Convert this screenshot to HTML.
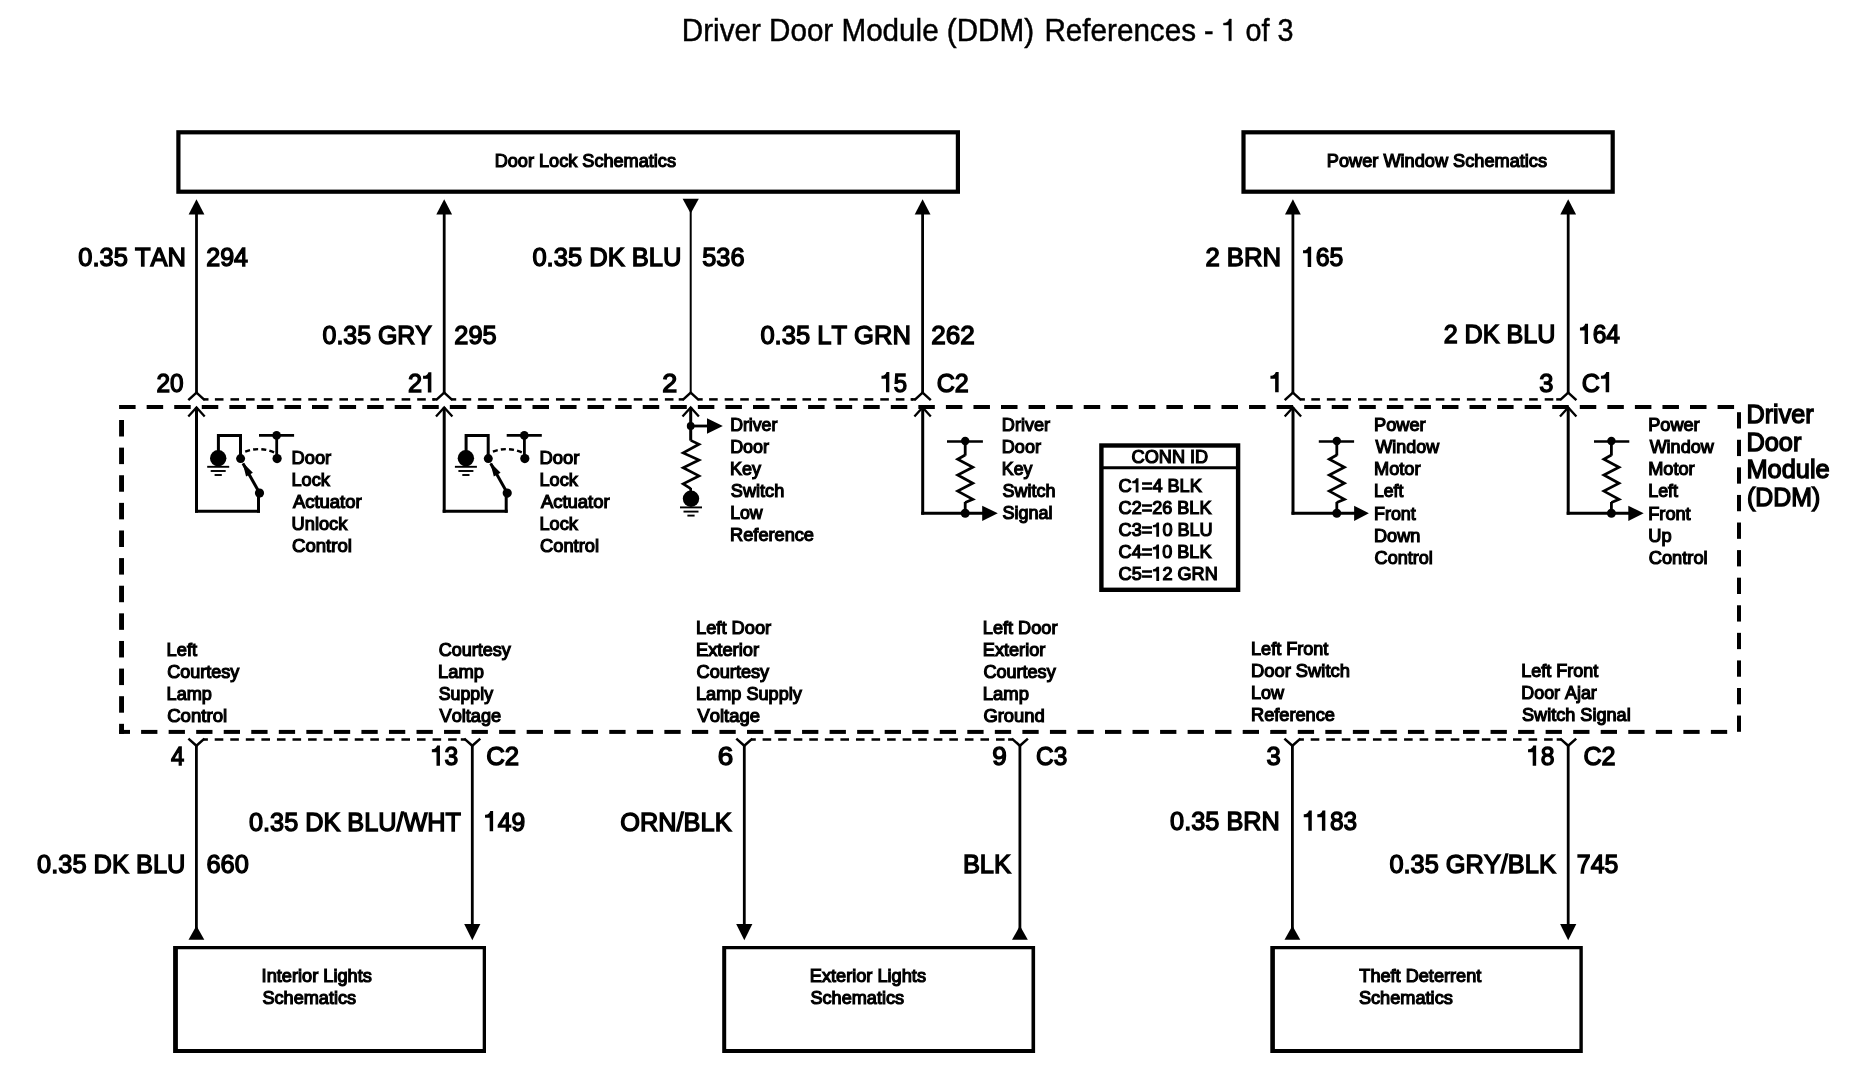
<!DOCTYPE html>
<html><head><meta charset="utf-8"><title>Driver Door Module (DDM) References - 1 of 3</title>
<style>
html,body{margin:0;padding:0;background:#fff;}
body{width:1864px;height:1088px;overflow:hidden;font-family:"Liberation Sans",sans-serif;}
svg{display:block;will-change:transform;}
svg text{font-family:"Liberation Sans",sans-serif;fill:#000;font-kerning:none;font-variant-ligatures:none;}
</style></head><body>
<svg width="1864" height="1088" viewBox="0 0 1864 1088">
<rect x="0" y="0" width="1864" height="1088" fill="#fff"/>
<text transform="translate(681.79,40.70) scale(0.9686,1)" font-size="30.6" stroke="#000" stroke-width="0.45">Driver Door Module (DDM)</text>
<text transform="translate(1044.39,40.70) scale(0.9691,1)" font-size="30.6" stroke="#000" stroke-width="0.45">References</text>
<g transform="translate(1203.96,40.70) scale(0.9402,1)"><text font-size="30.6" stroke="#000" stroke-width="0.45">- <tspan visibility="hidden">1</tspan> of 3</text><path d="M341,0H254V512H66V572C170,576 238,612 270,709H341Z" transform="translate(18.69,0) scale(0.03060,-0.03060)" stroke="#000" stroke-width="14.7"/></g>
<rect x="178.40" y="132.30" width="779.50" height="59.40" fill="none" stroke="#000" stroke-width="4.2"/>
<rect x="1243.50" y="132.30" width="369.20" height="59.40" fill="none" stroke="#000" stroke-width="4.2"/>
<path fill-rule="evenodd" fill="#000" d="M173.1,946.0H486.0V1053.0H173.1Z M177.9,949.2V1049.0H482.7V949.2Z"/>
<path fill-rule="evenodd" fill="#000" d="M722.2,946.0H1035.1V1053.0H722.2Z M726.2,949.2V1049.0H1031.5V949.2Z"/>
<path fill-rule="evenodd" fill="#000" d="M1270.3,946.0H1582.8V1053.0H1270.3Z M1274.8999999999999,949.2V1049.0H1579.3999999999999V949.2Z"/>
<text transform="translate(494.71,167.00) scale(0.9857,1)" font-size="18.4" stroke="#000" stroke-width="1.2">Door Lock Schematics</text>
<text transform="translate(1326.81,166.80) scale(0.9889,1)" font-size="18.4" stroke="#000" stroke-width="1.2">Power Window Schematics</text>
<text transform="translate(261.62,982.40) scale(0.9897,1)" font-size="18.4" stroke="#000" stroke-width="1.2">Interior Lights</text>
<text transform="translate(262.49,1004.40) scale(0.9839,1)" font-size="18.4" stroke="#000" stroke-width="1.2">Schematics</text>
<text transform="translate(809.81,982.40) scale(0.9884,1)" font-size="18.4" stroke="#000" stroke-width="1.2">Exterior Lights</text>
<text transform="translate(810.48,1004.40) scale(0.9849,1)" font-size="18.4" stroke="#000" stroke-width="1.2">Schematics</text>
<text transform="translate(1359.30,982.40) scale(0.9861,1)" font-size="18.4" stroke="#000" stroke-width="1.2">Theft Deterrent</text>
<text transform="translate(1358.88,1004.40) scale(0.9881,1)" font-size="18.4" stroke="#000" stroke-width="1.2">Schematics</text>
<line x1="119.1" y1="407.0" x2="135.6" y2="407.0" stroke="#000" stroke-width="4.0" />
<line x1="146.66" y1="407.0" x2="163.16" y2="407.0" stroke="#000" stroke-width="4.0" />
<line x1="174.22" y1="407.0" x2="190.72" y2="407.0" stroke="#000" stroke-width="4.0" />
<line x1="201.77999999999997" y1="407.0" x2="218.27999999999997" y2="407.0" stroke="#000" stroke-width="4.0" />
<line x1="229.33999999999997" y1="407.0" x2="245.83999999999997" y2="407.0" stroke="#000" stroke-width="4.0" />
<line x1="256.9" y1="407.0" x2="273.4" y2="407.0" stroke="#000" stroke-width="4.0" />
<line x1="284.46" y1="407.0" x2="300.96" y2="407.0" stroke="#000" stroke-width="4.0" />
<line x1="312.02" y1="407.0" x2="328.52" y2="407.0" stroke="#000" stroke-width="4.0" />
<line x1="339.58" y1="407.0" x2="356.08" y2="407.0" stroke="#000" stroke-width="4.0" />
<line x1="367.14" y1="407.0" x2="383.64" y2="407.0" stroke="#000" stroke-width="4.0" />
<line x1="394.69999999999993" y1="407.0" x2="411.19999999999993" y2="407.0" stroke="#000" stroke-width="4.0" />
<line x1="422.26" y1="407.0" x2="438.76" y2="407.0" stroke="#000" stroke-width="4.0" />
<line x1="449.81999999999994" y1="407.0" x2="466.31999999999994" y2="407.0" stroke="#000" stroke-width="4.0" />
<line x1="477.38" y1="407.0" x2="493.88" y2="407.0" stroke="#000" stroke-width="4.0" />
<line x1="504.93999999999994" y1="407.0" x2="521.4399999999999" y2="407.0" stroke="#000" stroke-width="4.0" />
<line x1="532.5" y1="407.0" x2="549.0" y2="407.0" stroke="#000" stroke-width="4.0" />
<line x1="560.06" y1="407.0" x2="576.56" y2="407.0" stroke="#000" stroke-width="4.0" />
<line x1="587.62" y1="407.0" x2="604.12" y2="407.0" stroke="#000" stroke-width="4.0" />
<line x1="615.18" y1="407.0" x2="631.68" y2="407.0" stroke="#000" stroke-width="4.0" />
<line x1="642.74" y1="407.0" x2="659.24" y2="407.0" stroke="#000" stroke-width="4.0" />
<line x1="670.3" y1="407.0" x2="686.8" y2="407.0" stroke="#000" stroke-width="4.0" />
<line x1="697.86" y1="407.0" x2="714.36" y2="407.0" stroke="#000" stroke-width="4.0" />
<line x1="725.42" y1="407.0" x2="741.92" y2="407.0" stroke="#000" stroke-width="4.0" />
<line x1="752.98" y1="407.0" x2="769.48" y2="407.0" stroke="#000" stroke-width="4.0" />
<line x1="780.54" y1="407.0" x2="797.04" y2="407.0" stroke="#000" stroke-width="4.0" />
<line x1="808.1" y1="407.0" x2="824.6" y2="407.0" stroke="#000" stroke-width="4.0" />
<line x1="835.66" y1="407.0" x2="852.16" y2="407.0" stroke="#000" stroke-width="4.0" />
<line x1="863.22" y1="407.0" x2="879.72" y2="407.0" stroke="#000" stroke-width="4.0" />
<line x1="890.78" y1="407.0" x2="907.28" y2="407.0" stroke="#000" stroke-width="4.0" />
<line x1="918.34" y1="407.0" x2="934.84" y2="407.0" stroke="#000" stroke-width="4.0" />
<line x1="945.9" y1="407.0" x2="962.4" y2="407.0" stroke="#000" stroke-width="4.0" />
<line x1="973.46" y1="407.0" x2="989.96" y2="407.0" stroke="#000" stroke-width="4.0" />
<line x1="1001.02" y1="407.0" x2="1017.52" y2="407.0" stroke="#000" stroke-width="4.0" />
<line x1="1028.58" y1="407.0" x2="1045.08" y2="407.0" stroke="#000" stroke-width="4.0" />
<line x1="1056.1399999999999" y1="407.0" x2="1072.6399999999999" y2="407.0" stroke="#000" stroke-width="4.0" />
<line x1="1083.6999999999998" y1="407.0" x2="1100.1999999999998" y2="407.0" stroke="#000" stroke-width="4.0" />
<line x1="1111.26" y1="407.0" x2="1127.76" y2="407.0" stroke="#000" stroke-width="4.0" />
<line x1="1138.82" y1="407.0" x2="1155.32" y2="407.0" stroke="#000" stroke-width="4.0" />
<line x1="1166.3799999999999" y1="407.0" x2="1182.8799999999999" y2="407.0" stroke="#000" stroke-width="4.0" />
<line x1="1193.9399999999998" y1="407.0" x2="1210.4399999999998" y2="407.0" stroke="#000" stroke-width="4.0" />
<line x1="1221.4999999999998" y1="407.0" x2="1237.9999999999998" y2="407.0" stroke="#000" stroke-width="4.0" />
<line x1="1249.06" y1="407.0" x2="1265.56" y2="407.0" stroke="#000" stroke-width="4.0" />
<line x1="1276.62" y1="407.0" x2="1293.12" y2="407.0" stroke="#000" stroke-width="4.0" />
<line x1="1304.1799999999998" y1="407.0" x2="1320.6799999999998" y2="407.0" stroke="#000" stroke-width="4.0" />
<line x1="1331.7399999999998" y1="407.0" x2="1348.2399999999998" y2="407.0" stroke="#000" stroke-width="4.0" />
<line x1="1359.3" y1="407.0" x2="1375.8" y2="407.0" stroke="#000" stroke-width="4.0" />
<line x1="1386.86" y1="407.0" x2="1403.36" y2="407.0" stroke="#000" stroke-width="4.0" />
<line x1="1414.4199999999998" y1="407.0" x2="1430.9199999999998" y2="407.0" stroke="#000" stroke-width="4.0" />
<line x1="1441.9799999999998" y1="407.0" x2="1458.4799999999998" y2="407.0" stroke="#000" stroke-width="4.0" />
<line x1="1469.5399999999997" y1="407.0" x2="1486.0399999999997" y2="407.0" stroke="#000" stroke-width="4.0" />
<line x1="1497.1" y1="407.0" x2="1513.6" y2="407.0" stroke="#000" stroke-width="4.0" />
<line x1="1524.6599999999999" y1="407.0" x2="1541.1599999999999" y2="407.0" stroke="#000" stroke-width="4.0" />
<line x1="1552.2199999999998" y1="407.0" x2="1568.7199999999998" y2="407.0" stroke="#000" stroke-width="4.0" />
<line x1="1579.7799999999997" y1="407.0" x2="1596.2799999999997" y2="407.0" stroke="#000" stroke-width="4.0" />
<line x1="1607.34" y1="407.0" x2="1623.84" y2="407.0" stroke="#000" stroke-width="4.0" />
<line x1="1634.8999999999999" y1="407.0" x2="1651.3999999999999" y2="407.0" stroke="#000" stroke-width="4.0" />
<line x1="1662.4599999999998" y1="407.0" x2="1678.9599999999998" y2="407.0" stroke="#000" stroke-width="4.0" />
<line x1="1690.0199999999998" y1="407.0" x2="1706.5199999999998" y2="407.0" stroke="#000" stroke-width="4.0" />
<line x1="1717.58" y1="407.0" x2="1734.08" y2="407.0" stroke="#000" stroke-width="4.0" />
<line x1="119.2" y1="731.9" x2="130.0" y2="731.9" stroke="#000" stroke-width="4.0" />
<line x1="141.1" y1="731.9" x2="157.4" y2="731.9" stroke="#000" stroke-width="4.0" />
<line x1="168.64" y1="731.9" x2="184.94" y2="731.9" stroke="#000" stroke-width="4.0" />
<line x1="196.18" y1="731.9" x2="212.48000000000002" y2="731.9" stroke="#000" stroke-width="4.0" />
<line x1="223.72" y1="731.9" x2="240.02" y2="731.9" stroke="#000" stroke-width="4.0" />
<line x1="251.26" y1="731.9" x2="267.56" y2="731.9" stroke="#000" stroke-width="4.0" />
<line x1="278.79999999999995" y1="731.9" x2="295.09999999999997" y2="731.9" stroke="#000" stroke-width="4.0" />
<line x1="306.34000000000003" y1="731.9" x2="322.64000000000004" y2="731.9" stroke="#000" stroke-width="4.0" />
<line x1="333.88" y1="731.9" x2="350.18" y2="731.9" stroke="#000" stroke-width="4.0" />
<line x1="361.41999999999996" y1="731.9" x2="377.71999999999997" y2="731.9" stroke="#000" stroke-width="4.0" />
<line x1="388.96" y1="731.9" x2="405.26" y2="731.9" stroke="#000" stroke-width="4.0" />
<line x1="416.5" y1="731.9" x2="432.8" y2="731.9" stroke="#000" stroke-width="4.0" />
<line x1="444.03999999999996" y1="731.9" x2="460.34" y2="731.9" stroke="#000" stroke-width="4.0" />
<line x1="471.58000000000004" y1="731.9" x2="487.88000000000005" y2="731.9" stroke="#000" stroke-width="4.0" />
<line x1="499.12" y1="731.9" x2="515.42" y2="731.9" stroke="#000" stroke-width="4.0" />
<line x1="526.66" y1="731.9" x2="542.9599999999999" y2="731.9" stroke="#000" stroke-width="4.0" />
<line x1="554.1999999999999" y1="731.9" x2="570.4999999999999" y2="731.9" stroke="#000" stroke-width="4.0" />
<line x1="581.74" y1="731.9" x2="598.04" y2="731.9" stroke="#000" stroke-width="4.0" />
<line x1="609.28" y1="731.9" x2="625.5799999999999" y2="731.9" stroke="#000" stroke-width="4.0" />
<line x1="636.8199999999999" y1="731.9" x2="653.1199999999999" y2="731.9" stroke="#000" stroke-width="4.0" />
<line x1="664.36" y1="731.9" x2="680.66" y2="731.9" stroke="#000" stroke-width="4.0" />
<line x1="691.9" y1="731.9" x2="708.1999999999999" y2="731.9" stroke="#000" stroke-width="4.0" />
<line x1="719.44" y1="731.9" x2="735.74" y2="731.9" stroke="#000" stroke-width="4.0" />
<line x1="746.98" y1="731.9" x2="763.28" y2="731.9" stroke="#000" stroke-width="4.0" />
<line x1="774.52" y1="731.9" x2="790.8199999999999" y2="731.9" stroke="#000" stroke-width="4.0" />
<line x1="802.0600000000001" y1="731.9" x2="818.36" y2="731.9" stroke="#000" stroke-width="4.0" />
<line x1="829.6" y1="731.9" x2="845.9" y2="731.9" stroke="#000" stroke-width="4.0" />
<line x1="857.14" y1="731.9" x2="873.4399999999999" y2="731.9" stroke="#000" stroke-width="4.0" />
<line x1="884.68" y1="731.9" x2="900.9799999999999" y2="731.9" stroke="#000" stroke-width="4.0" />
<line x1="912.22" y1="731.9" x2="928.52" y2="731.9" stroke="#000" stroke-width="4.0" />
<line x1="939.76" y1="731.9" x2="956.06" y2="731.9" stroke="#000" stroke-width="4.0" />
<line x1="967.3" y1="731.9" x2="983.5999999999999" y2="731.9" stroke="#000" stroke-width="4.0" />
<line x1="994.84" y1="731.9" x2="1011.14" y2="731.9" stroke="#000" stroke-width="4.0" />
<line x1="1022.38" y1="731.9" x2="1038.68" y2="731.9" stroke="#000" stroke-width="4.0" />
<line x1="1049.9199999999998" y1="731.9" x2="1066.2199999999998" y2="731.9" stroke="#000" stroke-width="4.0" />
<line x1="1077.46" y1="731.9" x2="1093.76" y2="731.9" stroke="#000" stroke-width="4.0" />
<line x1="1105.0" y1="731.9" x2="1121.3" y2="731.9" stroke="#000" stroke-width="4.0" />
<line x1="1132.54" y1="731.9" x2="1148.84" y2="731.9" stroke="#000" stroke-width="4.0" />
<line x1="1160.08" y1="731.9" x2="1176.3799999999999" y2="731.9" stroke="#000" stroke-width="4.0" />
<line x1="1187.62" y1="731.9" x2="1203.9199999999998" y2="731.9" stroke="#000" stroke-width="4.0" />
<line x1="1215.1599999999999" y1="731.9" x2="1231.4599999999998" y2="731.9" stroke="#000" stroke-width="4.0" />
<line x1="1242.6999999999998" y1="731.9" x2="1258.9999999999998" y2="731.9" stroke="#000" stroke-width="4.0" />
<line x1="1270.2399999999998" y1="731.9" x2="1286.5399999999997" y2="731.9" stroke="#000" stroke-width="4.0" />
<line x1="1297.78" y1="731.9" x2="1314.08" y2="731.9" stroke="#000" stroke-width="4.0" />
<line x1="1325.32" y1="731.9" x2="1341.62" y2="731.9" stroke="#000" stroke-width="4.0" />
<line x1="1352.86" y1="731.9" x2="1369.1599999999999" y2="731.9" stroke="#000" stroke-width="4.0" />
<line x1="1380.3999999999999" y1="731.9" x2="1396.6999999999998" y2="731.9" stroke="#000" stroke-width="4.0" />
<line x1="1407.9399999999998" y1="731.9" x2="1424.2399999999998" y2="731.9" stroke="#000" stroke-width="4.0" />
<line x1="1435.4799999999998" y1="731.9" x2="1451.7799999999997" y2="731.9" stroke="#000" stroke-width="4.0" />
<line x1="1463.02" y1="731.9" x2="1479.32" y2="731.9" stroke="#000" stroke-width="4.0" />
<line x1="1490.56" y1="731.9" x2="1506.86" y2="731.9" stroke="#000" stroke-width="4.0" />
<line x1="1518.1" y1="731.9" x2="1534.3999999999999" y2="731.9" stroke="#000" stroke-width="4.0" />
<line x1="1545.6399999999999" y1="731.9" x2="1561.9399999999998" y2="731.9" stroke="#000" stroke-width="4.0" />
<line x1="1573.1799999999998" y1="731.9" x2="1589.4799999999998" y2="731.9" stroke="#000" stroke-width="4.0" />
<line x1="1600.7199999999998" y1="731.9" x2="1617.0199999999998" y2="731.9" stroke="#000" stroke-width="4.0" />
<line x1="1628.2599999999998" y1="731.9" x2="1644.5599999999997" y2="731.9" stroke="#000" stroke-width="4.0" />
<line x1="1655.8" y1="731.9" x2="1672.1" y2="731.9" stroke="#000" stroke-width="4.0" />
<line x1="1683.34" y1="731.9" x2="1699.6399999999999" y2="731.9" stroke="#000" stroke-width="4.0" />
<line x1="1710.8799999999999" y1="731.9" x2="1727.1799999999998" y2="731.9" stroke="#000" stroke-width="4.0" />
<line x1="121.55" y1="420.0" x2="121.55" y2="436.5" stroke="#000" stroke-width="4.9" />
<line x1="121.55" y1="447.62" x2="121.55" y2="464.12" stroke="#000" stroke-width="4.9" />
<line x1="121.55" y1="475.24" x2="121.55" y2="491.74" stroke="#000" stroke-width="4.9" />
<line x1="121.55" y1="502.86" x2="121.55" y2="519.36" stroke="#000" stroke-width="4.9" />
<line x1="121.55" y1="530.48" x2="121.55" y2="546.98" stroke="#000" stroke-width="4.9" />
<line x1="121.55" y1="558.1" x2="121.55" y2="574.6" stroke="#000" stroke-width="4.9" />
<line x1="121.55" y1="585.72" x2="121.55" y2="602.22" stroke="#000" stroke-width="4.9" />
<line x1="121.55" y1="613.34" x2="121.55" y2="629.84" stroke="#000" stroke-width="4.9" />
<line x1="121.55" y1="640.96" x2="121.55" y2="657.46" stroke="#000" stroke-width="4.9" />
<line x1="121.55" y1="668.58" x2="121.55" y2="685.08" stroke="#000" stroke-width="4.9" />
<line x1="121.55" y1="696.2" x2="121.55" y2="712.7" stroke="#000" stroke-width="4.9" />
<line x1="121.55" y1="723.8199999999999" x2="121.55" y2="733.9" stroke="#000" stroke-width="4.9" />
<line x1="1739.0" y1="412.2" x2="1739.0" y2="428.5" stroke="#000" stroke-width="4.0" />
<line x1="1739.0" y1="439.78" x2="1739.0" y2="456.08" stroke="#000" stroke-width="4.0" />
<line x1="1739.0" y1="467.36" x2="1739.0" y2="483.66" stroke="#000" stroke-width="4.0" />
<line x1="1739.0" y1="494.94" x2="1739.0" y2="511.24" stroke="#000" stroke-width="4.0" />
<line x1="1739.0" y1="522.52" x2="1739.0" y2="538.8199999999999" stroke="#000" stroke-width="4.0" />
<line x1="1739.0" y1="550.0999999999999" x2="1739.0" y2="566.3999999999999" stroke="#000" stroke-width="4.0" />
<line x1="1739.0" y1="577.68" x2="1739.0" y2="593.9799999999999" stroke="#000" stroke-width="4.0" />
<line x1="1739.0" y1="605.26" x2="1739.0" y2="621.56" stroke="#000" stroke-width="4.0" />
<line x1="1739.0" y1="632.8399999999999" x2="1739.0" y2="649.1399999999999" stroke="#000" stroke-width="4.0" />
<line x1="1739.0" y1="660.42" x2="1739.0" y2="676.7199999999999" stroke="#000" stroke-width="4.0" />
<line x1="1739.0" y1="688.0" x2="1739.0" y2="704.3" stroke="#000" stroke-width="4.0" />
<line x1="1739.0" y1="715.5799999999999" x2="1739.0" y2="731.8" stroke="#000" stroke-width="4.0" />
<line x1="214.9" y1="399.4" x2="223.5" y2="399.4" stroke="#000" stroke-width="2.5" />
<line x1="230.46" y1="399.4" x2="239.06" y2="399.4" stroke="#000" stroke-width="2.5" />
<line x1="246.02" y1="399.4" x2="254.62" y2="399.4" stroke="#000" stroke-width="2.5" />
<line x1="261.58" y1="399.4" x2="270.18" y2="399.4" stroke="#000" stroke-width="2.5" />
<line x1="277.14" y1="399.4" x2="285.74" y2="399.4" stroke="#000" stroke-width="2.5" />
<line x1="292.7" y1="399.4" x2="301.3" y2="399.4" stroke="#000" stroke-width="2.5" />
<line x1="308.26" y1="399.4" x2="316.86" y2="399.4" stroke="#000" stroke-width="2.5" />
<line x1="323.82" y1="399.4" x2="332.42" y2="399.4" stroke="#000" stroke-width="2.5" />
<line x1="339.38" y1="399.4" x2="347.98" y2="399.4" stroke="#000" stroke-width="2.5" />
<line x1="354.94" y1="399.4" x2="363.54" y2="399.4" stroke="#000" stroke-width="2.5" />
<line x1="370.5" y1="399.4" x2="379.1" y2="399.4" stroke="#000" stroke-width="2.5" />
<line x1="386.06" y1="399.4" x2="394.66" y2="399.4" stroke="#000" stroke-width="2.5" />
<line x1="401.62" y1="399.4" x2="410.22" y2="399.4" stroke="#000" stroke-width="2.5" />
<line x1="417.18" y1="399.4" x2="425.78000000000003" y2="399.4" stroke="#000" stroke-width="2.5" />
<line x1="432.74" y1="399.4" x2="434.7" y2="399.4" stroke="#000" stroke-width="2.5" />
<line x1="462.59999999999997" y1="399.4" x2="471.2" y2="399.4" stroke="#000" stroke-width="2.5" />
<line x1="478.15999999999997" y1="399.4" x2="486.76" y2="399.4" stroke="#000" stroke-width="2.5" />
<line x1="493.71999999999997" y1="399.4" x2="502.32" y2="399.4" stroke="#000" stroke-width="2.5" />
<line x1="509.28" y1="399.4" x2="517.88" y2="399.4" stroke="#000" stroke-width="2.5" />
<line x1="524.8399999999999" y1="399.4" x2="533.4399999999999" y2="399.4" stroke="#000" stroke-width="2.5" />
<line x1="540.3999999999999" y1="399.4" x2="548.9999999999999" y2="399.4" stroke="#000" stroke-width="2.5" />
<line x1="555.9599999999998" y1="399.4" x2="564.5599999999998" y2="399.4" stroke="#000" stroke-width="2.5" />
<line x1="571.5199999999998" y1="399.4" x2="580.1199999999998" y2="399.4" stroke="#000" stroke-width="2.5" />
<line x1="587.0799999999997" y1="399.4" x2="595.6799999999997" y2="399.4" stroke="#000" stroke-width="2.5" />
<line x1="602.6399999999996" y1="399.4" x2="611.2399999999997" y2="399.4" stroke="#000" stroke-width="2.5" />
<line x1="618.1999999999996" y1="399.4" x2="626.7999999999996" y2="399.4" stroke="#000" stroke-width="2.5" />
<line x1="633.7599999999995" y1="399.4" x2="642.3599999999996" y2="399.4" stroke="#000" stroke-width="2.5" />
<line x1="649.3199999999995" y1="399.4" x2="657.9199999999995" y2="399.4" stroke="#000" stroke-width="2.5" />
<line x1="664.8799999999994" y1="399.4" x2="673.4799999999994" y2="399.4" stroke="#000" stroke-width="2.5" />
<line x1="709.1" y1="399.4" x2="717.7" y2="399.4" stroke="#000" stroke-width="2.5" />
<line x1="724.66" y1="399.4" x2="733.26" y2="399.4" stroke="#000" stroke-width="2.5" />
<line x1="740.2199999999999" y1="399.4" x2="748.8199999999999" y2="399.4" stroke="#000" stroke-width="2.5" />
<line x1="755.7799999999999" y1="399.4" x2="764.3799999999999" y2="399.4" stroke="#000" stroke-width="2.5" />
<line x1="771.3399999999998" y1="399.4" x2="779.9399999999998" y2="399.4" stroke="#000" stroke-width="2.5" />
<line x1="786.8999999999997" y1="399.4" x2="795.4999999999998" y2="399.4" stroke="#000" stroke-width="2.5" />
<line x1="802.4599999999997" y1="399.4" x2="811.0599999999997" y2="399.4" stroke="#000" stroke-width="2.5" />
<line x1="818.0199999999996" y1="399.4" x2="826.6199999999997" y2="399.4" stroke="#000" stroke-width="2.5" />
<line x1="833.5799999999996" y1="399.4" x2="842.1799999999996" y2="399.4" stroke="#000" stroke-width="2.5" />
<line x1="849.1399999999995" y1="399.4" x2="857.7399999999996" y2="399.4" stroke="#000" stroke-width="2.5" />
<line x1="864.6999999999995" y1="399.4" x2="873.2999999999995" y2="399.4" stroke="#000" stroke-width="2.5" />
<line x1="880.2599999999994" y1="399.4" x2="888.8599999999994" y2="399.4" stroke="#000" stroke-width="2.5" />
<line x1="895.8199999999994" y1="399.4" x2="904.4199999999994" y2="399.4" stroke="#000" stroke-width="2.5" />
<line x1="911.3799999999993" y1="399.4" x2="913.1" y2="399.4" stroke="#000" stroke-width="2.5" />
<line x1="1311.3000000000002" y1="399.4" x2="1319.9" y2="399.4" stroke="#000" stroke-width="2.5" />
<line x1="1326.8600000000001" y1="399.4" x2="1335.46" y2="399.4" stroke="#000" stroke-width="2.5" />
<line x1="1342.42" y1="399.4" x2="1351.02" y2="399.4" stroke="#000" stroke-width="2.5" />
<line x1="1357.98" y1="399.4" x2="1366.58" y2="399.4" stroke="#000" stroke-width="2.5" />
<line x1="1373.54" y1="399.4" x2="1382.1399999999999" y2="399.4" stroke="#000" stroke-width="2.5" />
<line x1="1389.1" y1="399.4" x2="1397.6999999999998" y2="399.4" stroke="#000" stroke-width="2.5" />
<line x1="1404.6599999999999" y1="399.4" x2="1413.2599999999998" y2="399.4" stroke="#000" stroke-width="2.5" />
<line x1="1420.2199999999998" y1="399.4" x2="1428.8199999999997" y2="399.4" stroke="#000" stroke-width="2.5" />
<line x1="1435.7799999999997" y1="399.4" x2="1444.3799999999997" y2="399.4" stroke="#000" stroke-width="2.5" />
<line x1="1451.3399999999997" y1="399.4" x2="1459.9399999999996" y2="399.4" stroke="#000" stroke-width="2.5" />
<line x1="1466.8999999999996" y1="399.4" x2="1475.4999999999995" y2="399.4" stroke="#000" stroke-width="2.5" />
<line x1="1482.4599999999996" y1="399.4" x2="1491.0599999999995" y2="399.4" stroke="#000" stroke-width="2.5" />
<line x1="1498.0199999999995" y1="399.4" x2="1506.6199999999994" y2="399.4" stroke="#000" stroke-width="2.5" />
<line x1="1513.5799999999995" y1="399.4" x2="1522.1799999999994" y2="399.4" stroke="#000" stroke-width="2.5" />
<line x1="1529.1399999999994" y1="399.4" x2="1537.7399999999993" y2="399.4" stroke="#000" stroke-width="2.5" />
<line x1="1544.6999999999994" y1="399.4" x2="1553.2999999999993" y2="399.4" stroke="#000" stroke-width="2.5" />
<line x1="214.70000000000002" y1="739.5" x2="223.3" y2="739.5" stroke="#000" stroke-width="2.5" />
<line x1="230.26000000000002" y1="739.5" x2="238.86" y2="739.5" stroke="#000" stroke-width="2.5" />
<line x1="245.82000000000002" y1="739.5" x2="254.42000000000002" y2="739.5" stroke="#000" stroke-width="2.5" />
<line x1="261.38" y1="739.5" x2="269.98" y2="739.5" stroke="#000" stroke-width="2.5" />
<line x1="276.94" y1="739.5" x2="285.54" y2="739.5" stroke="#000" stroke-width="2.5" />
<line x1="292.5" y1="739.5" x2="301.1" y2="739.5" stroke="#000" stroke-width="2.5" />
<line x1="308.06" y1="739.5" x2="316.66" y2="739.5" stroke="#000" stroke-width="2.5" />
<line x1="323.62" y1="739.5" x2="332.22" y2="739.5" stroke="#000" stroke-width="2.5" />
<line x1="339.18" y1="739.5" x2="347.78000000000003" y2="739.5" stroke="#000" stroke-width="2.5" />
<line x1="354.74" y1="739.5" x2="363.34000000000003" y2="739.5" stroke="#000" stroke-width="2.5" />
<line x1="370.3" y1="739.5" x2="378.90000000000003" y2="739.5" stroke="#000" stroke-width="2.5" />
<line x1="385.86" y1="739.5" x2="394.46000000000004" y2="739.5" stroke="#000" stroke-width="2.5" />
<line x1="401.42" y1="739.5" x2="410.02000000000004" y2="739.5" stroke="#000" stroke-width="2.5" />
<line x1="416.98" y1="739.5" x2="425.58000000000004" y2="739.5" stroke="#000" stroke-width="2.5" />
<line x1="432.54" y1="739.5" x2="441.14000000000004" y2="739.5" stroke="#000" stroke-width="2.5" />
<line x1="448.1" y1="739.5" x2="456.70000000000005" y2="739.5" stroke="#000" stroke-width="2.5" />
<line x1="762.5999999999999" y1="739.5" x2="771.1999999999999" y2="739.5" stroke="#000" stroke-width="2.5" />
<line x1="778.1599999999999" y1="739.5" x2="786.7599999999999" y2="739.5" stroke="#000" stroke-width="2.5" />
<line x1="793.7199999999998" y1="739.5" x2="802.3199999999998" y2="739.5" stroke="#000" stroke-width="2.5" />
<line x1="809.2799999999997" y1="739.5" x2="817.8799999999998" y2="739.5" stroke="#000" stroke-width="2.5" />
<line x1="824.8399999999997" y1="739.5" x2="833.4399999999997" y2="739.5" stroke="#000" stroke-width="2.5" />
<line x1="840.3999999999996" y1="739.5" x2="848.9999999999997" y2="739.5" stroke="#000" stroke-width="2.5" />
<line x1="855.9599999999996" y1="739.5" x2="864.5599999999996" y2="739.5" stroke="#000" stroke-width="2.5" />
<line x1="871.5199999999995" y1="739.5" x2="880.1199999999995" y2="739.5" stroke="#000" stroke-width="2.5" />
<line x1="887.0799999999995" y1="739.5" x2="895.6799999999995" y2="739.5" stroke="#000" stroke-width="2.5" />
<line x1="902.6399999999994" y1="739.5" x2="911.2399999999994" y2="739.5" stroke="#000" stroke-width="2.5" />
<line x1="918.1999999999994" y1="739.5" x2="926.7999999999994" y2="739.5" stroke="#000" stroke-width="2.5" />
<line x1="933.7599999999993" y1="739.5" x2="942.3599999999993" y2="739.5" stroke="#000" stroke-width="2.5" />
<line x1="949.3199999999993" y1="739.5" x2="957.9199999999993" y2="739.5" stroke="#000" stroke-width="2.5" />
<line x1="964.8799999999992" y1="739.5" x2="973.4799999999992" y2="739.5" stroke="#000" stroke-width="2.5" />
<line x1="980.4399999999991" y1="739.5" x2="989.0399999999992" y2="739.5" stroke="#000" stroke-width="2.5" />
<line x1="995.9999999999991" y1="739.5" x2="1004.5999999999991" y2="739.5" stroke="#000" stroke-width="2.5" />
<line x1="1310.7" y1="739.5" x2="1319.3" y2="739.5" stroke="#000" stroke-width="2.5" />
<line x1="1326.26" y1="739.5" x2="1334.86" y2="739.5" stroke="#000" stroke-width="2.5" />
<line x1="1341.82" y1="739.5" x2="1350.4199999999998" y2="739.5" stroke="#000" stroke-width="2.5" />
<line x1="1357.3799999999999" y1="739.5" x2="1365.9799999999998" y2="739.5" stroke="#000" stroke-width="2.5" />
<line x1="1372.9399999999998" y1="739.5" x2="1381.5399999999997" y2="739.5" stroke="#000" stroke-width="2.5" />
<line x1="1388.4999999999998" y1="739.5" x2="1397.0999999999997" y2="739.5" stroke="#000" stroke-width="2.5" />
<line x1="1404.0599999999997" y1="739.5" x2="1412.6599999999996" y2="739.5" stroke="#000" stroke-width="2.5" />
<line x1="1419.6199999999997" y1="739.5" x2="1428.2199999999996" y2="739.5" stroke="#000" stroke-width="2.5" />
<line x1="1435.1799999999996" y1="739.5" x2="1443.7799999999995" y2="739.5" stroke="#000" stroke-width="2.5" />
<line x1="1450.7399999999996" y1="739.5" x2="1459.3399999999995" y2="739.5" stroke="#000" stroke-width="2.5" />
<line x1="1466.2999999999995" y1="739.5" x2="1474.8999999999994" y2="739.5" stroke="#000" stroke-width="2.5" />
<line x1="1481.8599999999994" y1="739.5" x2="1490.4599999999994" y2="739.5" stroke="#000" stroke-width="2.5" />
<line x1="1497.4199999999994" y1="739.5" x2="1506.0199999999993" y2="739.5" stroke="#000" stroke-width="2.5" />
<line x1="1512.9799999999993" y1="739.5" x2="1521.5799999999992" y2="739.5" stroke="#000" stroke-width="2.5" />
<line x1="1528.5399999999993" y1="739.5" x2="1537.1399999999992" y2="739.5" stroke="#000" stroke-width="2.5" />
<line x1="1544.0999999999992" y1="739.5" x2="1552.6999999999991" y2="739.5" stroke="#000" stroke-width="2.5" />
<polygon points="196.50,199.30 188.60,214.50 204.40,214.50" fill="#000"/>
<line x1="196.5" y1="210" x2="196.5" y2="393" stroke="#000" stroke-width="2.8" />
<polyline points="188.30,400.20 196.50,392.60 204.70,400.20" fill="none" stroke="#000" stroke-width="2.5" stroke-linejoin="miter" />
<polyline points="188.30,416.40 196.50,407.40 204.70,416.40" fill="none" stroke="#000" stroke-width="2.3" stroke-linejoin="miter" />
<polygon points="444.20,199.30 436.30,214.50 452.10,214.50" fill="#000"/>
<line x1="444.2" y1="210" x2="444.2" y2="393" stroke="#000" stroke-width="2.8" />
<polyline points="436.00,400.20 444.20,392.60 452.40,400.20" fill="none" stroke="#000" stroke-width="2.5" stroke-linejoin="miter" />
<polyline points="436.00,416.40 444.20,407.40 452.40,416.40" fill="none" stroke="#000" stroke-width="2.3" stroke-linejoin="miter" />
<polygon points="682.60,198.80 698.80,198.80 690.70,213.50" fill="#000"/>
<line x1="690.7" y1="205" x2="690.7" y2="393" stroke="#000" stroke-width="2.0" />
<polyline points="682.50,400.20 690.70,392.60 698.90,400.20" fill="none" stroke="#000" stroke-width="2.5" stroke-linejoin="miter" />
<polyline points="682.50,416.40 690.70,407.40 698.90,416.40" fill="none" stroke="#000" stroke-width="2.3" stroke-linejoin="miter" />
<polygon points="922.60,199.30 914.70,214.50 930.50,214.50" fill="#000"/>
<line x1="922.6" y1="210" x2="922.6" y2="393" stroke="#000" stroke-width="2.8" />
<polyline points="914.40,400.20 922.60,392.60 930.80,400.20" fill="none" stroke="#000" stroke-width="2.5" stroke-linejoin="miter" />
<polyline points="914.40,416.40 922.60,407.40 930.80,416.40" fill="none" stroke="#000" stroke-width="2.3" stroke-linejoin="miter" />
<polygon points="1292.90,199.30 1285.00,214.50 1300.80,214.50" fill="#000"/>
<line x1="1292.9" y1="210" x2="1292.9" y2="393" stroke="#000" stroke-width="2.8" />
<polyline points="1284.70,400.20 1292.90,392.60 1301.10,400.20" fill="none" stroke="#000" stroke-width="2.5" stroke-linejoin="miter" />
<polyline points="1284.70,416.40 1292.90,407.40 1301.10,416.40" fill="none" stroke="#000" stroke-width="2.3" stroke-linejoin="miter" />
<polygon points="1568.20,199.30 1560.30,214.50 1576.10,214.50" fill="#000"/>
<line x1="1568.2" y1="210" x2="1568.2" y2="393" stroke="#000" stroke-width="2.8" />
<polyline points="1560.00,400.20 1568.20,392.60 1576.40,400.20" fill="none" stroke="#000" stroke-width="2.5" stroke-linejoin="miter" />
<polyline points="1560.00,416.40 1568.20,407.40 1576.40,416.40" fill="none" stroke="#000" stroke-width="2.3" stroke-linejoin="miter" />
<line x1="204.0" y1="399.4" x2="208.5" y2="399.4" stroke="#000" stroke-width="2.5" />
<line x1="451.7" y1="399.4" x2="456.2" y2="399.4" stroke="#000" stroke-width="2.5" />
<line x1="698.2" y1="399.4" x2="702.7" y2="399.4" stroke="#000" stroke-width="2.5" />
<line x1="1300.4" y1="399.4" x2="1304.9" y2="399.4" stroke="#000" stroke-width="2.5" />
<line x1="432.2" y1="399.4" x2="436.7" y2="399.4" stroke="#000" stroke-width="2.5" />
<line x1="678.7" y1="399.4" x2="683.2" y2="399.4" stroke="#000" stroke-width="2.5" />
<line x1="910.6" y1="399.4" x2="915.1" y2="399.4" stroke="#000" stroke-width="2.5" />
<line x1="1556.2" y1="399.4" x2="1560.7" y2="399.4" stroke="#000" stroke-width="2.5" />
<polyline points="188.40,738.60 196.40,745.80 204.40,738.60" fill="none" stroke="#000" stroke-width="2.5" stroke-linejoin="miter" />
<line x1="196.4" y1="745" x2="196.4" y2="930" stroke="#000" stroke-width="2.8" />
<polygon points="196.40,925.80 188.50,939.80 204.30,939.80" fill="#000"/>
<polyline points="464.30,738.60 472.30,745.80 480.30,738.60" fill="none" stroke="#000" stroke-width="2.5" stroke-linejoin="miter" />
<line x1="472.3" y1="745" x2="472.3" y2="927" stroke="#000" stroke-width="2.8" />
<polygon points="464.20,924.10 480.40,924.10 472.30,940.20" fill="#000"/>
<polyline points="736.30,738.60 744.30,745.80 752.30,738.60" fill="none" stroke="#000" stroke-width="2.5" stroke-linejoin="miter" />
<line x1="744.3" y1="745" x2="744.3" y2="927" stroke="#000" stroke-width="2.8" />
<polygon points="736.20,924.10 752.40,924.10 744.30,940.20" fill="#000"/>
<polyline points="1011.90,738.60 1019.90,745.80 1027.90,738.60" fill="none" stroke="#000" stroke-width="2.5" stroke-linejoin="miter" />
<line x1="1019.9" y1="745" x2="1019.9" y2="930" stroke="#000" stroke-width="2.8" />
<polygon points="1019.90,925.80 1012.00,939.80 1027.80,939.80" fill="#000"/>
<polyline points="1284.40,738.60 1292.40,745.80 1300.40,738.60" fill="none" stroke="#000" stroke-width="2.5" stroke-linejoin="miter" />
<line x1="1292.4" y1="745" x2="1292.4" y2="930" stroke="#000" stroke-width="2.8" />
<polygon points="1292.40,925.80 1284.50,939.80 1300.30,939.80" fill="#000"/>
<polyline points="1560.20,738.60 1568.20,745.80 1576.20,738.60" fill="none" stroke="#000" stroke-width="2.5" stroke-linejoin="miter" />
<line x1="1568.2" y1="745" x2="1568.2" y2="927" stroke="#000" stroke-width="2.8" />
<polygon points="1560.10,924.10 1576.30,924.10 1568.20,940.20" fill="#000"/>
<line x1="203.4" y1="739.5" x2="207.9" y2="739.5" stroke="#000" stroke-width="2.5" />
<line x1="751.3" y1="739.5" x2="755.8" y2="739.5" stroke="#000" stroke-width="2.5" />
<line x1="1299.4" y1="739.5" x2="1303.9" y2="739.5" stroke="#000" stroke-width="2.5" />
<line x1="460.8" y1="739.5" x2="465.3" y2="739.5" stroke="#000" stroke-width="2.5" />
<line x1="1008.1" y1="739.5" x2="1012.6" y2="739.5" stroke="#000" stroke-width="2.5" />
<line x1="1556.7" y1="739.5" x2="1561.2" y2="739.5" stroke="#000" stroke-width="2.5" />
<text transform="translate(78.21,265.60) scale(0.9627,1)" font-size="26.5" stroke="#000" stroke-width="1.4">0.35 TAN</text>
<text transform="translate(206.25,265.60) scale(0.9450,1)" font-size="26.5" stroke="#000" stroke-width="1.4">294</text>
<text transform="translate(322.53,344.20) scale(0.9412,1)" font-size="26.5" stroke="#000" stroke-width="1.4">0.35 GRY</text>
<text transform="translate(454.33,344.20) scale(0.9570,1)" font-size="26.5" stroke="#000" stroke-width="1.4">295</text>
<text transform="translate(532.40,265.90) scale(0.9643,1)" font-size="26.5" stroke="#000" stroke-width="1.4">0.35 DK BLU</text>
<text transform="translate(702.19,265.90) scale(0.9569,1)" font-size="26.5" stroke="#000" stroke-width="1.4">536</text>
<text transform="translate(760.40,344.20) scale(0.9645,1)" font-size="26.5" stroke="#000" stroke-width="1.4">0.35 LT GRN</text>
<text transform="translate(931.30,344.20) scale(0.9841,1)" font-size="26.5" stroke="#000" stroke-width="1.4">262</text>
<text transform="translate(1205.41,266.20) scale(0.9708,1)" font-size="26.5" stroke="#000" stroke-width="1.4">2 BRN</text>
<g transform="translate(1302.06,266.20) scale(0.9354,1)"><text font-size="26.5" stroke="#000" stroke-width="1.4"><tspan visibility="hidden">1</tspan>65</text><path d="M341,0H254V512H66V572C170,576 238,612 270,709H341Z" transform="translate(0.00,0) scale(0.02650,-0.02650)" stroke="#000" stroke-width="52.8"/></g>
<text transform="translate(1443.64,343.30) scale(0.9486,1)" font-size="26.5" stroke="#000" stroke-width="1.4">2 DK BLU</text>
<g transform="translate(1578.98,343.30) scale(0.9282,1)"><text font-size="26.5" stroke="#000" stroke-width="1.4"><tspan visibility="hidden">1</tspan>64</text><path d="M341,0H254V512H66V572C170,576 238,612 270,709H341Z" transform="translate(0.00,0) scale(0.02650,-0.02650)" stroke="#000" stroke-width="52.8"/></g>
<text transform="translate(156.48,391.70) scale(0.9211,1)" font-size="26.5" stroke="#000" stroke-width="1.4">20</text>
<g transform="translate(407.93,391.70) scale(0.9577,1)"><text font-size="26.5" stroke="#000" stroke-width="1.4">2<tspan visibility="hidden">1</tspan></text><path d="M341,0H254V512H66V572C170,576 238,612 270,709H341Z" transform="translate(14.74,0) scale(0.02650,-0.02650)" stroke="#000" stroke-width="52.8"/></g>
<text transform="translate(662.15,391.50) scale(1.0179,1)" font-size="26.5" stroke="#000" stroke-width="1.4">2</text>
<g transform="translate(880.52,391.50) scale(0.9048,1)"><text font-size="26.5" stroke="#000" stroke-width="1.4"><tspan visibility="hidden">1</tspan>5</text><path d="M341,0H254V512H66V572C170,576 238,612 270,709H341Z" transform="translate(0.00,0) scale(0.02650,-0.02650)" stroke="#000" stroke-width="52.8"/></g>
<text transform="translate(936.65,391.50) scale(0.9449,1)" font-size="26.5" stroke="#000" stroke-width="1.4">C2</text>
<g transform="translate(1269.44,391.50) scale(0.9468,1)"><text font-size="26.5" stroke="#000" stroke-width="1.4"><tspan visibility="hidden">1</tspan></text><path d="M341,0H254V512H66V572C170,576 238,612 270,709H341Z" transform="translate(0.00,0) scale(0.02650,-0.02650)" stroke="#000" stroke-width="52.8"/></g>
<text transform="translate(1539.13,391.50) scale(0.9613,1)" font-size="26.5" stroke="#000" stroke-width="1.4">3</text>
<g transform="translate(1581.85,391.50) scale(0.9460,1)"><text font-size="26.5" stroke="#000" stroke-width="1.4">C<tspan visibility="hidden">1</tspan></text><path d="M341,0H254V512H66V572C170,576 238,612 270,709H341Z" transform="translate(19.14,0) scale(0.02650,-0.02650)" stroke="#000" stroke-width="52.8"/></g>
<text transform="translate(170.98,765.10) scale(0.8967,1)" font-size="26.5" stroke="#000" stroke-width="1.4">4</text>
<g transform="translate(430.87,765.10) scale(0.9329,1)"><text font-size="26.5" stroke="#000" stroke-width="1.4"><tspan visibility="hidden">1</tspan>3</text><path d="M341,0H254V512H66V572C170,576 238,612 270,709H341Z" transform="translate(0.00,0) scale(0.02650,-0.02650)" stroke="#000" stroke-width="52.8"/></g>
<text transform="translate(486.21,765.10) scale(0.9705,1)" font-size="26.5" stroke="#000" stroke-width="1.4">C2</text>
<text transform="translate(717.71,765.10) scale(1.0514,1)" font-size="26.5" stroke="#000" stroke-width="1.4">6</text>
<text transform="translate(992.30,765.10) scale(0.9862,1)" font-size="26.5" stroke="#000" stroke-width="1.4">9</text>
<text transform="translate(1036.08,765.10) scale(0.9202,1)" font-size="26.5" stroke="#000" stroke-width="1.4">C3</text>
<text transform="translate(1266.62,765.10) scale(0.9692,1)" font-size="26.5" stroke="#000" stroke-width="1.4">3</text>
<g transform="translate(1527.07,765.10) scale(0.9329,1)"><text font-size="26.5" stroke="#000" stroke-width="1.4"><tspan visibility="hidden">1</tspan>8</text><path d="M341,0H254V512H66V572C170,576 238,612 270,709H341Z" transform="translate(0.00,0) scale(0.02650,-0.02650)" stroke="#000" stroke-width="52.8"/></g>
<text transform="translate(1583.44,765.10) scale(0.9481,1)" font-size="26.5" stroke="#000" stroke-width="1.4">C2</text>
<text transform="translate(249.01,830.50) scale(0.9541,1)" font-size="26.5" stroke="#000" stroke-width="1.4">0.35 DK BLU/WHT</text>
<g transform="translate(484.07,830.50) scale(0.9293,1)"><text font-size="26.5" stroke="#000" stroke-width="1.4"><tspan visibility="hidden">1</tspan>49</text><path d="M341,0H254V512H66V572C170,576 238,612 270,709H341Z" transform="translate(0.00,0) scale(0.02650,-0.02650)" stroke="#000" stroke-width="52.8"/></g>
<text transform="translate(620.21,830.50) scale(0.9573,1)" font-size="26.5" stroke="#000" stroke-width="1.4">ORN/BLK</text>
<text transform="translate(1170.11,830.10) scale(0.9552,1)" font-size="26.5" stroke="#000" stroke-width="1.4">0.35 BRN</text>
<g transform="translate(1302.79,830.10) scale(0.9204,1)"><text font-size="26.5" stroke="#000" stroke-width="1.4"><tspan visibility="hidden">1</tspan><tspan visibility="hidden">1</tspan>83</text><path d="M341,0H254V512H66V572C170,576 238,612 270,709H341Z" transform="translate(0.00,0) scale(0.02650,-0.02650)" stroke="#000" stroke-width="52.8"/><path d="M341,0H254V512H66V572C170,576 238,612 270,709H341Z" transform="translate(14.74,0) scale(0.02650,-0.02650)" stroke="#000" stroke-width="52.8"/></g>
<text transform="translate(37.11,873.00) scale(0.9590,1)" font-size="26.5" stroke="#000" stroke-width="1.4">0.35 DK BLU</text>
<text transform="translate(206.43,873.00) scale(0.9575,1)" font-size="26.5" stroke="#000" stroke-width="1.4">660</text>
<text transform="translate(962.91,873.00) scale(0.9596,1)" font-size="26.5" stroke="#000" stroke-width="1.4">BLK</text>
<text transform="translate(1389.41,873.00) scale(0.9577,1)" font-size="26.5" stroke="#000" stroke-width="1.4">0.35 GRY/BLK</text>
<text transform="translate(1576.83,873.00) scale(0.9384,1)" font-size="26.5" stroke="#000" stroke-width="1.4">745</text>
<text transform="translate(1746.43,422.80) scale(0.9520,1)" font-size="26.5" stroke="#000" stroke-width="1.4">Driver</text>
<text transform="translate(1746.42,450.50) scale(0.9573,1)" font-size="26.5" stroke="#000" stroke-width="1.4">Door</text>
<text transform="translate(1746.42,478.30) scale(0.9585,1)" font-size="26.5" stroke="#000" stroke-width="1.4">Module</text>
<text transform="translate(1746.95,506.00) scale(0.9409,1)" font-size="26.5" stroke="#000" stroke-width="1.4">(DDM)</text>
<text transform="translate(291.50,464.40) scale(0.9953,1)" font-size="18.4" stroke="#000" stroke-width="1.2">Door</text>
<text transform="translate(291.51,486.37) scale(0.9868,1)" font-size="18.4" stroke="#000" stroke-width="1.2">Lock</text>
<text transform="translate(292.96,508.34) scale(1.0030,1)" font-size="18.4" stroke="#000" stroke-width="1.2">Actuator</text>
<text transform="translate(291.60,530.31) scale(0.9916,1)" font-size="18.4" stroke="#000" stroke-width="1.2">Unlock</text>
<text transform="translate(292.07,552.28) scale(1.0091,1)" font-size="18.4" stroke="#000" stroke-width="1.2">Control</text>
<text transform="translate(539.49,464.40) scale(1.0032,1)" font-size="18.4" stroke="#000" stroke-width="1.2">Door</text>
<text transform="translate(539.51,486.37) scale(0.9868,1)" font-size="18.4" stroke="#000" stroke-width="1.2">Lock</text>
<text transform="translate(540.96,508.34) scale(1.0030,1)" font-size="18.4" stroke="#000" stroke-width="1.2">Actuator</text>
<text transform="translate(539.51,530.31) scale(0.9868,1)" font-size="18.4" stroke="#000" stroke-width="1.2">Lock</text>
<text transform="translate(540.09,552.28) scale(0.9934,1)" font-size="18.4" stroke="#000" stroke-width="1.2">Control</text>
<text transform="translate(730.15,431.00) scale(0.9627,1)" font-size="18.4" stroke="#000" stroke-width="1.2">Driver</text>
<text transform="translate(730.13,453.06) scale(0.9769,1)" font-size="18.4" stroke="#000" stroke-width="1.2">Door</text>
<text transform="translate(730.12,475.12) scale(0.9781,1)" font-size="18.4" stroke="#000" stroke-width="1.2">Key</text>
<text transform="translate(730.78,497.18) scale(0.9869,1)" font-size="18.4" stroke="#000" stroke-width="1.2">Switch</text>
<text transform="translate(730.15,519.24) scale(0.9629,1)" font-size="18.4" stroke="#000" stroke-width="1.2">Low</text>
<text transform="translate(730.11,541.30) scale(0.9882,1)" font-size="18.4" stroke="#000" stroke-width="1.2">Reference</text>
<text transform="translate(1001.82,431.00) scale(0.9839,1)" font-size="18.4" stroke="#000" stroke-width="1.2">Driver</text>
<text transform="translate(1001.82,453.06) scale(0.9822,1)" font-size="18.4" stroke="#000" stroke-width="1.2">Door</text>
<text transform="translate(1001.84,475.12) scale(0.9648,1)" font-size="18.4" stroke="#000" stroke-width="1.2">Key</text>
<text transform="translate(1002.49,497.18) scale(0.9792,1)" font-size="18.4" stroke="#000" stroke-width="1.2">Switch</text>
<text transform="translate(1002.49,519.24) scale(0.9796,1)" font-size="18.4" stroke="#000" stroke-width="1.2">Signal</text>
<text transform="translate(1374.00,431.20) scale(0.9910,1)" font-size="18.4" stroke="#000" stroke-width="1.2">Power</text>
<text transform="translate(1375.43,453.28) scale(0.9737,1)" font-size="18.4" stroke="#000" stroke-width="1.2">Window</text>
<text transform="translate(1374.01,475.36) scale(0.9883,1)" font-size="18.4" stroke="#000" stroke-width="1.2">Motor</text>
<text transform="translate(1374.06,497.44) scale(0.9533,1)" font-size="18.4" stroke="#000" stroke-width="1.2">Left</text>
<text transform="translate(1374.03,519.52) scale(0.9731,1)" font-size="18.4" stroke="#000" stroke-width="1.2">Front</text>
<text transform="translate(1374.01,541.60) scale(0.9875,1)" font-size="18.4" stroke="#000" stroke-width="1.2">Down</text>
<text transform="translate(1374.60,563.68) scale(0.9812,1)" font-size="18.4" stroke="#000" stroke-width="1.2">Control</text>
<text transform="translate(1648.21,431.20) scale(0.9871,1)" font-size="18.4" stroke="#000" stroke-width="1.2">Power</text>
<text transform="translate(1649.63,453.28) scale(0.9798,1)" font-size="18.4" stroke="#000" stroke-width="1.2">Window</text>
<text transform="translate(1648.21,475.36) scale(0.9861,1)" font-size="18.4" stroke="#000" stroke-width="1.2">Motor</text>
<text transform="translate(1648.24,497.44) scale(0.9705,1)" font-size="18.4" stroke="#000" stroke-width="1.2">Left</text>
<text transform="translate(1648.21,519.52) scale(0.9900,1)" font-size="18.4" stroke="#000" stroke-width="1.2">Front</text>
<text transform="translate(1648.29,541.60) scale(0.9931,1)" font-size="18.4" stroke="#000" stroke-width="1.2">Up</text>
<text transform="translate(1648.79,563.68) scale(0.9916,1)" font-size="18.4" stroke="#000" stroke-width="1.2">Control</text>
<text transform="translate(166.60,656.00) scale(0.9946,1)" font-size="18.4" stroke="#000" stroke-width="1.2">Left</text>
<text transform="translate(167.20,678.10) scale(0.9784,1)" font-size="18.4" stroke="#000" stroke-width="1.2">Courtesy</text>
<text transform="translate(166.61,700.20) scale(0.9849,1)" font-size="18.4" stroke="#000" stroke-width="1.2">Lamp</text>
<text transform="translate(167.17,722.30) scale(1.0126,1)" font-size="18.4" stroke="#000" stroke-width="1.2">Control</text>
<text transform="translate(438.70,656.00) scale(0.9784,1)" font-size="18.4" stroke="#000" stroke-width="1.2">Courtesy</text>
<text transform="translate(438.09,678.10) scale(0.9986,1)" font-size="18.4" stroke="#000" stroke-width="1.2">Lamp</text>
<text transform="translate(438.80,700.20) scale(0.9640,1)" font-size="18.4" stroke="#000" stroke-width="1.2">Supply</text>
<text transform="translate(439.53,722.30) scale(0.9883,1)" font-size="18.4" stroke="#000" stroke-width="1.2">Voltage</text>
<text transform="translate(696.00,633.70) scale(0.9935,1)" font-size="18.4" stroke="#000" stroke-width="1.2">Left Door</text>
<text transform="translate(696.00,655.80) scale(0.9953,1)" font-size="18.4" stroke="#000" stroke-width="1.2">Exterior</text>
<text transform="translate(696.59,677.90) scale(0.9866,1)" font-size="18.4" stroke="#000" stroke-width="1.2">Courtesy</text>
<text transform="translate(696.01,700.00) scale(0.9863,1)" font-size="18.4" stroke="#000" stroke-width="1.2">Lamp Supply</text>
<text transform="translate(697.43,722.10) scale(1.0013,1)" font-size="18.4" stroke="#000" stroke-width="1.2">Voltage</text>
<text transform="translate(982.81,633.70) scale(0.9867,1)" font-size="18.4" stroke="#000" stroke-width="1.2">Left Door</text>
<text transform="translate(982.81,655.80) scale(0.9872,1)" font-size="18.4" stroke="#000" stroke-width="1.2">Exterior</text>
<text transform="translate(983.40,677.90) scale(0.9825,1)" font-size="18.4" stroke="#000" stroke-width="1.2">Courtesy</text>
<text transform="translate(982.79,700.00) scale(1.0032,1)" font-size="18.4" stroke="#000" stroke-width="1.2">Lamp</text>
<text transform="translate(983.38,722.10) scale(1.0005,1)" font-size="18.4" stroke="#000" stroke-width="1.2">Ground</text>
<text transform="translate(1251.02,655.20) scale(0.9830,1)" font-size="18.4" stroke="#000" stroke-width="1.2">Left Front</text>
<text transform="translate(1251.00,677.23) scale(0.9969,1)" font-size="18.4" stroke="#000" stroke-width="1.2">Door Switch</text>
<text transform="translate(1251.02,699.26) scale(0.9784,1)" font-size="18.4" stroke="#000" stroke-width="1.2">Low</text>
<text transform="translate(1251.01,721.29) scale(0.9894,1)" font-size="18.4" stroke="#000" stroke-width="1.2">Reference</text>
<text transform="translate(1521.32,677.30) scale(0.9791,1)" font-size="18.4" stroke="#000" stroke-width="1.2">Left Front</text>
<text transform="translate(1521.34,699.33) scale(0.9709,1)" font-size="18.4" stroke="#000" stroke-width="1.2">Door Ajar</text>
<text transform="translate(1521.98,721.36) scale(0.9852,1)" font-size="18.4" stroke="#000" stroke-width="1.2">Switch Signal</text>
<rect x="1101.40" y="445.50" width="136.70" height="144.30" fill="none" stroke="#000" stroke-width="4.4"/>
<line x1="1101" y1="467.7" x2="1239" y2="467.7" stroke="#000" stroke-width="3.0" />
<text transform="translate(1131.59,462.80) scale(0.9868,1)" font-size="18.4" stroke="#000" stroke-width="1.2">CONN ID</text>
<g transform="translate(1118.59,492.00) scale(0.9860,1)"><text font-size="18.4" stroke="#000" stroke-width="1.2">C<tspan visibility="hidden">1</tspan>=4 BLK</text><path d="M341,0H254V512H66V572C170,576 238,612 270,709H341Z" transform="translate(13.29,0) scale(0.01840,-0.01840)" stroke="#000" stroke-width="65.2"/></g>
<text transform="translate(1118.60,514.08) scale(0.9818,1)" font-size="18.4" stroke="#000" stroke-width="1.2">C2=26 BLK</text>
<g transform="translate(1118.59,536.16) scale(0.9837,1)"><text font-size="18.4" stroke="#000" stroke-width="1.2">C3=<tspan visibility="hidden">1</tspan>0 BLU</text><path d="M341,0H254V512H66V572C170,576 238,612 270,709H341Z" transform="translate(34.27,0) scale(0.01840,-0.01840)" stroke="#000" stroke-width="65.2"/></g>
<g transform="translate(1118.60,558.24) scale(0.9818,1)"><text font-size="18.4" stroke="#000" stroke-width="1.2">C4=<tspan visibility="hidden">1</tspan>0 BLK</text><path d="M341,0H254V512H66V572C170,576 238,612 270,709H341Z" transform="translate(34.27,0) scale(0.01840,-0.01840)" stroke="#000" stroke-width="65.2"/></g>
<g transform="translate(1118.59,580.32) scale(0.9845,1)"><text font-size="18.4" stroke="#000" stroke-width="1.2">C5=<tspan visibility="hidden">1</tspan>2 GRN</text><path d="M341,0H254V512H66V572C170,576 238,612 270,709H341Z" transform="translate(34.27,0) scale(0.01840,-0.01840)" stroke="#000" stroke-width="65.2"/></g>
<line x1="196.5" y1="407.4" x2="196.5" y2="512.7" stroke="#000" stroke-width="3.0" />
<line x1="195.0" y1="511.2" x2="260.0" y2="511.2" stroke="#000" stroke-width="3.0" />
<line x1="258.5" y1="494" x2="258.5" y2="512.7" stroke="#000" stroke-width="3.0" />
<polyline points="218.40,452.00 218.40,435.40 240.50,435.40 240.50,456.00" fill="none" stroke="#000" stroke-width="3.0" stroke-linejoin="miter" />
<circle cx="218.2" cy="458.2" r="8.2" fill="#000"/>
<line x1="207.2" y1="466.8" x2="229.2" y2="466.8" stroke="#000" stroke-width="1.9" />
<line x1="210.7" y1="471.0" x2="225.7" y2="471.0" stroke="#000" stroke-width="1.9" />
<line x1="214.6" y1="475.0" x2="221.79999999999998" y2="475.0" stroke="#000" stroke-width="1.9" />
<circle cx="240.6" cy="458.6" r="4.5" fill="#000"/>
<line x1="259.0" y1="435.4" x2="294.1" y2="435.4" stroke="#000" stroke-width="2.8" />
<circle cx="276.6" cy="435.4" r="4.3" fill="#000"/>
<line x1="276.7" y1="435.4" x2="276.7" y2="456" stroke="#000" stroke-width="2.8" />
<circle cx="277.1" cy="458.6" r="4.6" fill="#000"/>
<path d="M245.2,451.6 Q259.5,446.3 274.1,452.4" fill="none" stroke="#000" stroke-width="2.4" stroke-dasharray="5 3.2"/>
<line x1="243.0" y1="463.5" x2="259.3" y2="492.5" stroke="#000" stroke-width="3.0" />
<polygon points="242.50,462.20 246.10,476.60 252.90,472.80" fill="#000"/>
<circle cx="259.5" cy="493.1" r="4.6" fill="#000"/>
<line x1="444.2" y1="407.4" x2="444.2" y2="512.7" stroke="#000" stroke-width="3.0" />
<line x1="442.7" y1="511.2" x2="507.7" y2="511.2" stroke="#000" stroke-width="3.0" />
<line x1="506.2" y1="494" x2="506.2" y2="512.7" stroke="#000" stroke-width="3.0" />
<polyline points="466.10,452.00 466.10,435.40 488.20,435.40 488.20,456.00" fill="none" stroke="#000" stroke-width="3.0" stroke-linejoin="miter" />
<circle cx="465.9" cy="458.2" r="8.2" fill="#000"/>
<line x1="454.9" y1="466.8" x2="476.9" y2="466.8" stroke="#000" stroke-width="1.9" />
<line x1="458.4" y1="471.0" x2="473.4" y2="471.0" stroke="#000" stroke-width="1.9" />
<line x1="462.29999999999995" y1="475.0" x2="469.5" y2="475.0" stroke="#000" stroke-width="1.9" />
<circle cx="488.3" cy="458.6" r="4.5" fill="#000"/>
<line x1="506.7" y1="435.4" x2="541.8" y2="435.4" stroke="#000" stroke-width="2.8" />
<circle cx="524.3" cy="435.4" r="4.3" fill="#000"/>
<line x1="524.4" y1="435.4" x2="524.4" y2="456" stroke="#000" stroke-width="2.8" />
<circle cx="524.8" cy="458.6" r="4.6" fill="#000"/>
<path d="M492.9,451.6 Q507.2,446.3 521.8,452.4" fill="none" stroke="#000" stroke-width="2.4" stroke-dasharray="5 3.2"/>
<line x1="490.7" y1="463.5" x2="507.0" y2="492.5" stroke="#000" stroke-width="3.0" />
<polygon points="490.20,462.20 493.80,476.60 500.60,472.80" fill="#000"/>
<circle cx="507.2" cy="493.1" r="4.6" fill="#000"/>
<line x1="690.7" y1="407.4" x2="690.7" y2="440.6" stroke="#000" stroke-width="3.0" />
<circle cx="690.7" cy="426.0" r="3.9" fill="#000"/>
<line x1="690.7" y1="426.0" x2="708" y2="426.0" stroke="#000" stroke-width="2.8" />
<polygon points="707.00,418.30 707.00,433.70 722.80,426.00" fill="#000"/>
<polyline points="690.70,440.40 698.99,444.30 683.21,452.90 698.99,460.00 683.21,467.80 698.99,475.90 683.21,483.90 690.70,488.60" fill="none" stroke="#000" stroke-width="2.7" stroke-linejoin="miter" stroke-miterlimit="6"/>
<line x1="690.7" y1="488" x2="690.7" y2="492" stroke="#000" stroke-width="2.6" />
<circle cx="691.0" cy="498.8" r="8.2" fill="#000"/>
<line x1="680.0" y1="507.40000000000003" x2="702.0" y2="507.40000000000003" stroke="#000" stroke-width="1.9" />
<line x1="683.5" y1="511.6" x2="698.5" y2="511.6" stroke="#000" stroke-width="1.9" />
<line x1="687.4" y1="515.6" x2="694.6" y2="515.6" stroke="#000" stroke-width="1.9" />
<line x1="922.7" y1="407.4" x2="922.7" y2="514.7" stroke="#000" stroke-width="3.0" />
<line x1="921.2" y1="513.3" x2="983.2" y2="513.3" stroke="#000" stroke-width="3.0" />
<polygon points="982.20,505.70 982.20,520.90 997.80,513.30" fill="#000"/>
<circle cx="965.2" cy="513.3" r="4.5" fill="#000"/>
<line x1="947.0" y1="441.5" x2="982.9" y2="441.5" stroke="#000" stroke-width="2.6" />
<circle cx="965.2" cy="441.0" r="4.2" fill="#000"/>
<line x1="965.2" y1="441" x2="965.2" y2="455.6" stroke="#000" stroke-width="2.8" />
<polyline points="965.20,455.00 957.68,459.20 972.82,467.20 957.68,475.00 972.82,483.20 957.68,491.10 972.82,499.30 965.20,502.40" fill="none" stroke="#000" stroke-width="2.7" stroke-linejoin="miter" stroke-miterlimit="6"/>
<line x1="965.2" y1="502" x2="965.2" y2="513.3" stroke="#000" stroke-width="2.8" />
<line x1="1293.0" y1="407.4" x2="1293.0" y2="514.7" stroke="#000" stroke-width="3.0" />
<line x1="1291.5" y1="513.3" x2="1355.1" y2="513.3" stroke="#000" stroke-width="3.0" />
<polygon points="1354.10,505.70 1354.10,520.90 1368.90,513.30" fill="#000"/>
<circle cx="1336.8" cy="513.3" r="4.5" fill="#000"/>
<line x1="1318.8" y1="441.5" x2="1354.1" y2="441.5" stroke="#000" stroke-width="2.6" />
<circle cx="1336.8" cy="441.0" r="4.2" fill="#000"/>
<line x1="1336.8" y1="441" x2="1336.8" y2="455.6" stroke="#000" stroke-width="2.8" />
<polyline points="1336.80,455.00 1329.28,459.20 1344.42,467.20 1329.28,475.00 1344.42,483.20 1329.28,491.10 1344.42,499.30 1336.80,502.40" fill="none" stroke="#000" stroke-width="2.7" stroke-linejoin="miter" stroke-miterlimit="6"/>
<line x1="1336.8" y1="502" x2="1336.8" y2="513.3" stroke="#000" stroke-width="2.8" />
<line x1="1568.2" y1="407.4" x2="1568.2" y2="514.7" stroke="#000" stroke-width="3.0" />
<line x1="1566.7" y1="513.3" x2="1629.3" y2="513.3" stroke="#000" stroke-width="3.0" />
<polygon points="1628.30,505.70 1628.30,520.90 1643.70,513.30" fill="#000"/>
<circle cx="1611.4" cy="513.3" r="4.5" fill="#000"/>
<line x1="1594.0" y1="441.5" x2="1629.3" y2="441.5" stroke="#000" stroke-width="2.6" />
<circle cx="1611.4" cy="441.0" r="4.2" fill="#000"/>
<line x1="1611.4" y1="441" x2="1611.4" y2="455.6" stroke="#000" stroke-width="2.8" />
<polyline points="1611.40,455.00 1603.88,459.20 1619.02,467.20 1603.88,475.00 1619.02,483.20 1603.88,491.10 1619.02,499.30 1611.40,502.40" fill="none" stroke="#000" stroke-width="2.7" stroke-linejoin="miter" stroke-miterlimit="6"/>
<line x1="1611.4" y1="502" x2="1611.4" y2="513.3" stroke="#000" stroke-width="2.8" />
</svg>
</body></html>
